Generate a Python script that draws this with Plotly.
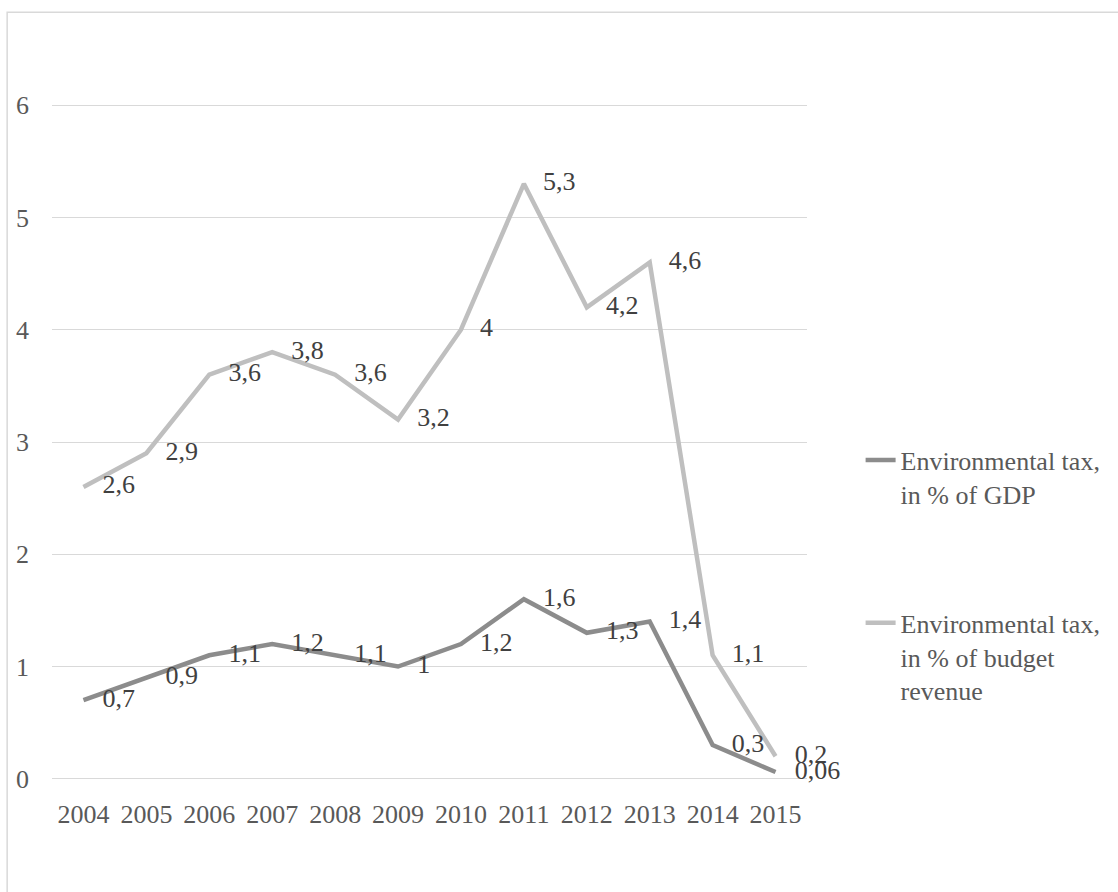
import plotly.graph_objects as go

years = [2004, 2005, 2006, 2007, 2008, 2009, 2010, 2011, 2012, 2013, 2014, 2015]
gdp_share = [0.7, 0.9, 1.1, 1.2, 1.1, 1.0, 1.2, 1.6, 1.3, 1.4, 0.3, 0.06]
budget_share = [2.6, 2.9, 3.6, 3.8, 3.6, 3.2, 4.0, 5.3, 4.2, 4.6, 1.1, 0.2]
y_ticks = [0, 1, 2, 3, 4, 5, 6]
name_gdp = "Environmental tax,<br>in % of GDP"
name_budget = "Environmental tax,<br>in % of budget<br>revenue"


def fmt(v):
    return f"{v:g}".replace(".", ",")


FONT = "Liberation Serif"
DARK = "#8c8c8c"
LIGHT = "#bfbfbf"
LABEL_COLOR = "#404040"
TICK_COLOR = "#595959"
GRID = "#d9d9d9"

fig = go.Figure()

fig.add_trace(go.Scatter(
    x=years, y=gdp_share, mode="lines", name=name_gdp,
    line=dict(color=DARK, width=4.5), legend="legend", hoverinfo="skip",
))
fig.add_trace(go.Scatter(
    x=years, y=budget_share, mode="lines", name=name_budget,
    line=dict(color=LIGHT, width=4.5), legend="legend2", hoverinfo="skip",
))

for vals in (gdp_share, budget_share):
    fig.add_trace(go.Scatter(
        x=years, y=vals, mode="markers+text",
        text=[fmt(v) for v in vals], textposition="middle right",
        marker=dict(size=29, color="rgba(0,0,0,0)"),
        textfont=dict(family=FONT, size=26, color=LABEL_COLOR),
        showlegend=False, cliponaxis=False, hoverinfo="skip",
    ))

legend_common = dict(
    xanchor="left", yanchor="top", valign="top",
    font=dict(family=FONT, size=26, color=TICK_COLOR),
    bgcolor="rgba(0,0,0,0)", borderwidth=0, itemclick=False,
)

fig.update_layout(
    width=1118, height=892,
    margin=dict(l=52, r=308, t=103, b=111),
    paper_bgcolor="white", plot_bgcolor="white",
    font=dict(family=FONT, size=26, color=TICK_COLOR),
    xaxis=dict(
        range=[2003.5, 2015.5], tickvals=years, ticktext=[str(y) for y in years],
        showgrid=False, zeroline=False, showline=False, ticks="",
        ticklabelstandoff=15,
        tickfont=dict(family=FONT, size=26, color=TICK_COLOR),
    ),
    yaxis=dict(
        range=[-0.02, 6.02], tickvals=y_ticks, ticktext=[str(t) for t in y_ticks],
        showgrid=True, gridcolor=GRID, gridwidth=1.3,
        zeroline=False, showline=False, ticks="",
        ticklabelstandoff=22,
        tickfont=dict(family=FONT, size=26, color=TICK_COLOR),
    ),
    legend=dict(x=1.071, y=0.508, **legend_common),
    legend2=dict(x=1.071, y=0.268, **legend_common),
    shapes=[dict(
        type="rect", xref="paper", yref="paper",
        x0=-0.0594, x1=1.6, y0=-0.4, y1=1.134,
        line=dict(color=GRID, width=1.5), fillcolor="rgba(0,0,0,0)", layer="below",
    )],
)

fig.write_html("out.html")
